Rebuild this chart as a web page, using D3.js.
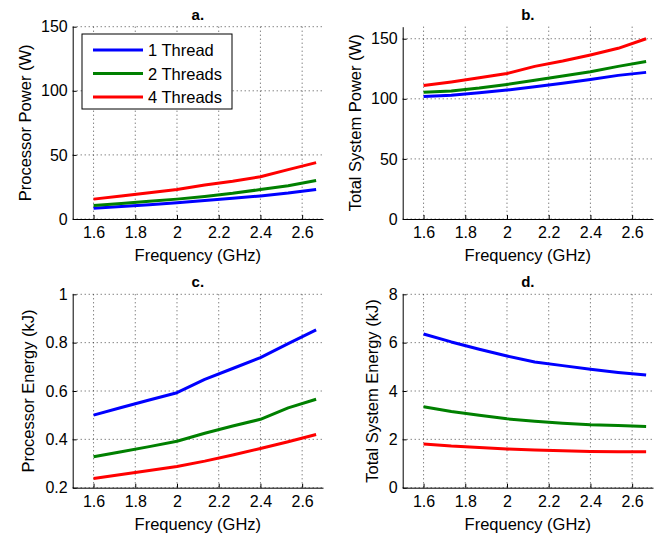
<!DOCTYPE html>
<html>
<head>
<meta charset="utf-8">
<script src="https://cdn.jsdelivr.net/npm/d3@7"></script>
<style>
  body { margin: 0; background: #fff; }
  text { font-family: "Liberation Sans", Arial, Helvetica, sans-serif; }
</style>
</head>
<body>
<svg id="chart" width="665" height="535"></svg>
<script>
// Frequencies (GHz) shared by all panels
const freqs = [1.6, 1.733, 1.867, 2.0, 2.133, 2.267, 2.4, 2.533, 2.667];
const seriesNames = ["1 Thread", "2 Threads", "4 Threads"];
const seriesColors = ["#0000ff", "#008000", "#ff0000"];
const xTicks = [1.6, 1.8, 2, 2.2, 2.4, 2.6];

// a. Processor power (W)
const procPower1 = [8.3, 9.7, 11.2, 12.7, 14.5, 16.2, 18, 20.2, 23];
const procPower2 = [10.5, 12, 13.8, 15.5, 17.5, 20, 23, 26, 30];
const procPower4 = [15.5, 18, 20.5, 23, 26.5, 29.5, 33, 38.5, 44];

// b. Total system power (W)
const sysPower1 = [102, 103, 105, 107.3, 110, 113, 116, 119.5, 122];
const sysPower2 = [105.5, 106.5, 109, 112, 115.5, 119, 122.5, 127, 131];
const sysPower4 = [111, 114, 117.5, 121, 127, 131.5, 136.5, 142, 150];

// c. Processor energy (kJ)
const procEnergy1 = [0.50, 0.532, 0.563, 0.593, 0.648, 0.693, 0.738, 0.796, 0.853];
const procEnergy2 = [0.328, 0.349, 0.370, 0.392, 0.425, 0.455, 0.483, 0.530, 0.566];
const procEnergy4 = [0.238, 0.255, 0.271, 0.288, 0.31, 0.335, 0.362, 0.39, 0.42];

// d. Total system energy (kJ)
const sysEnergy1 = [6.36, 6.03, 5.73, 5.45, 5.2, 5.05, 4.9, 4.77, 4.66];
const sysEnergy2 = [3.35, 3.15, 3.0, 2.85, 2.75, 2.67, 2.6, 2.57, 2.53];
const sysEnergy4 = [1.81, 1.72, 1.66, 1.60, 1.56, 1.53, 1.50, 1.49, 1.49];

const panels = [
  { title: "a.", ylabel: "Processor Power (W)", domain: [0, 150], ticks: [0, 50, 100, 150],
    series: [procPower1, procPower2, procPower4], left: 72.7, top: 26.7, bottom: 219, labelX: 31, legend: true },
  { title: "b.", ylabel: "Total System Power (W)", domain: [0, 160], ticks: [0, 50, 100, 150],
    series: [sysPower1, sysPower2, sysPower4], left: 402.7, top: 26.7, bottom: 219, labelX: 361 },
  { title: "c.", ylabel: "Processor Energy (kJ)", domain: [0.2, 1], ticks: [0.2, 0.4, 0.6, 0.8, 1],
    series: [procEnergy1, procEnergy2, procEnergy4], left: 72.7, top: 294.3, bottom: 487.7, labelX: 33.5 },
  { title: "d.", ylabel: "Total System Energy (kJ)", domain: [0, 8], ticks: [0, 2, 4, 6, 8],
    series: [sysEnergy1, sysEnergy2, sysEnergy4], left: 402.7, top: 294.3, bottom: 487.7, labelX: 378 }
];

const svg = d3.select("#chart");
const plotWidth = 250.3;

panels.forEach((p) => {
  const x = d3.scaleLinear().domain([1.5, 2.7]).range([p.left, p.left + plotWidth]);
  const y = d3.scaleLinear().domain(p.domain).range([p.bottom, p.top]);
  const g = svg.append("g");

  // dotted grid
  g.selectAll(".vgrid").data(xTicks).enter().append("line")
    .attr("x1", (d) => x(d)).attr("x2", (d) => x(d))
    .attr("y1", p.top).attr("y2", p.bottom)
    .attr("stroke", "#222").attr("stroke-width", 0.8)
    .attr("stroke-dasharray", "1,3");
  g.selectAll(".hgrid").data(p.ticks).enter().append("line")
    .attr("x1", p.left).attr("x2", p.left + plotWidth)
    .attr("y1", (d) => y(d)).attr("y2", (d) => y(d))
    .attr("stroke", "#222").attr("stroke-width", 0.8)
    .attr("stroke-dasharray", "1,3");

  // axes, ticks pointing inward
  const xAxis = g.append("g")
    .attr("transform", `translate(0,${p.bottom})`)
    .call(d3.axisBottom(x).tickValues(xTicks).tickSizeInner(-4).tickSizeOuter(0)
      .tickPadding(8).tickFormat(d3.format("")));
  const yAxis = g.append("g")
    .attr("transform", `translate(${p.left},0)`)
    .call(d3.axisLeft(y).tickValues(p.ticks).tickSizeInner(-4).tickSizeOuter(0)
      .tickPadding(5).tickFormat(d3.format("")));
  [xAxis, yAxis].forEach((a) => {
    a.select(".domain").attr("stroke", "#000").attr("stroke-width", 1);
    a.selectAll(".tick line").attr("stroke", "#000");
    a.selectAll(".tick text").attr("fill", "#000").style("font-size", "16px");
  });

  // lines
  const line = d3.line().x((d, i) => x(freqs[i])).y((d) => y(d));
  p.series.forEach((vals, i) => {
    g.append("path").datum(vals)
      .attr("d", line)
      .attr("fill", "none")
      .attr("stroke", seriesColors[i])
      .attr("stroke-width", 3)
      .attr("stroke-linejoin", "round");
  });

  // title and labels
  g.append("text")
    .attr("x", p.left + plotWidth / 2).attr("y", p.top - 7)
    .attr("text-anchor", "middle")
    .style("font-size", "15px").style("font-weight", "bold")
    .text(p.title);
  g.append("text")
    .attr("x", p.left + plotWidth / 2).attr("y", p.bottom + 42)
    .attr("text-anchor", "middle")
    .style("font-size", "16.5px")
    .text("Frequency (GHz)");
  g.append("text")
    .attr("transform", `translate(${p.labelX},${(p.top + p.bottom) / 2}) rotate(-90)`)
    .attr("text-anchor", "middle")
    .style("font-size", "16.5px")
    .text(p.ylabel);

  if (p.legend) {
    const lg = g.append("g");
    lg.append("rect")
      .attr("x", 82).attr("y", 34).attr("width", 150).attr("height", 75)
      .attr("fill", "#fff").attr("stroke", "#000").attr("stroke-width", 1);
    seriesNames.forEach((name, i) => {
      const yy = 50 + i * 23.5;
      lg.append("line")
        .attr("x1", 93).attr("x2", 143).attr("y1", yy).attr("y2", yy)
        .attr("stroke", seriesColors[i]).attr("stroke-width", 3);
      lg.append("text")
        .attr("x", 148).attr("y", yy + 6)
        .style("font-size", "16.5px")
        .text(name);
    });
  }
});
</script>
</body>
</html>
